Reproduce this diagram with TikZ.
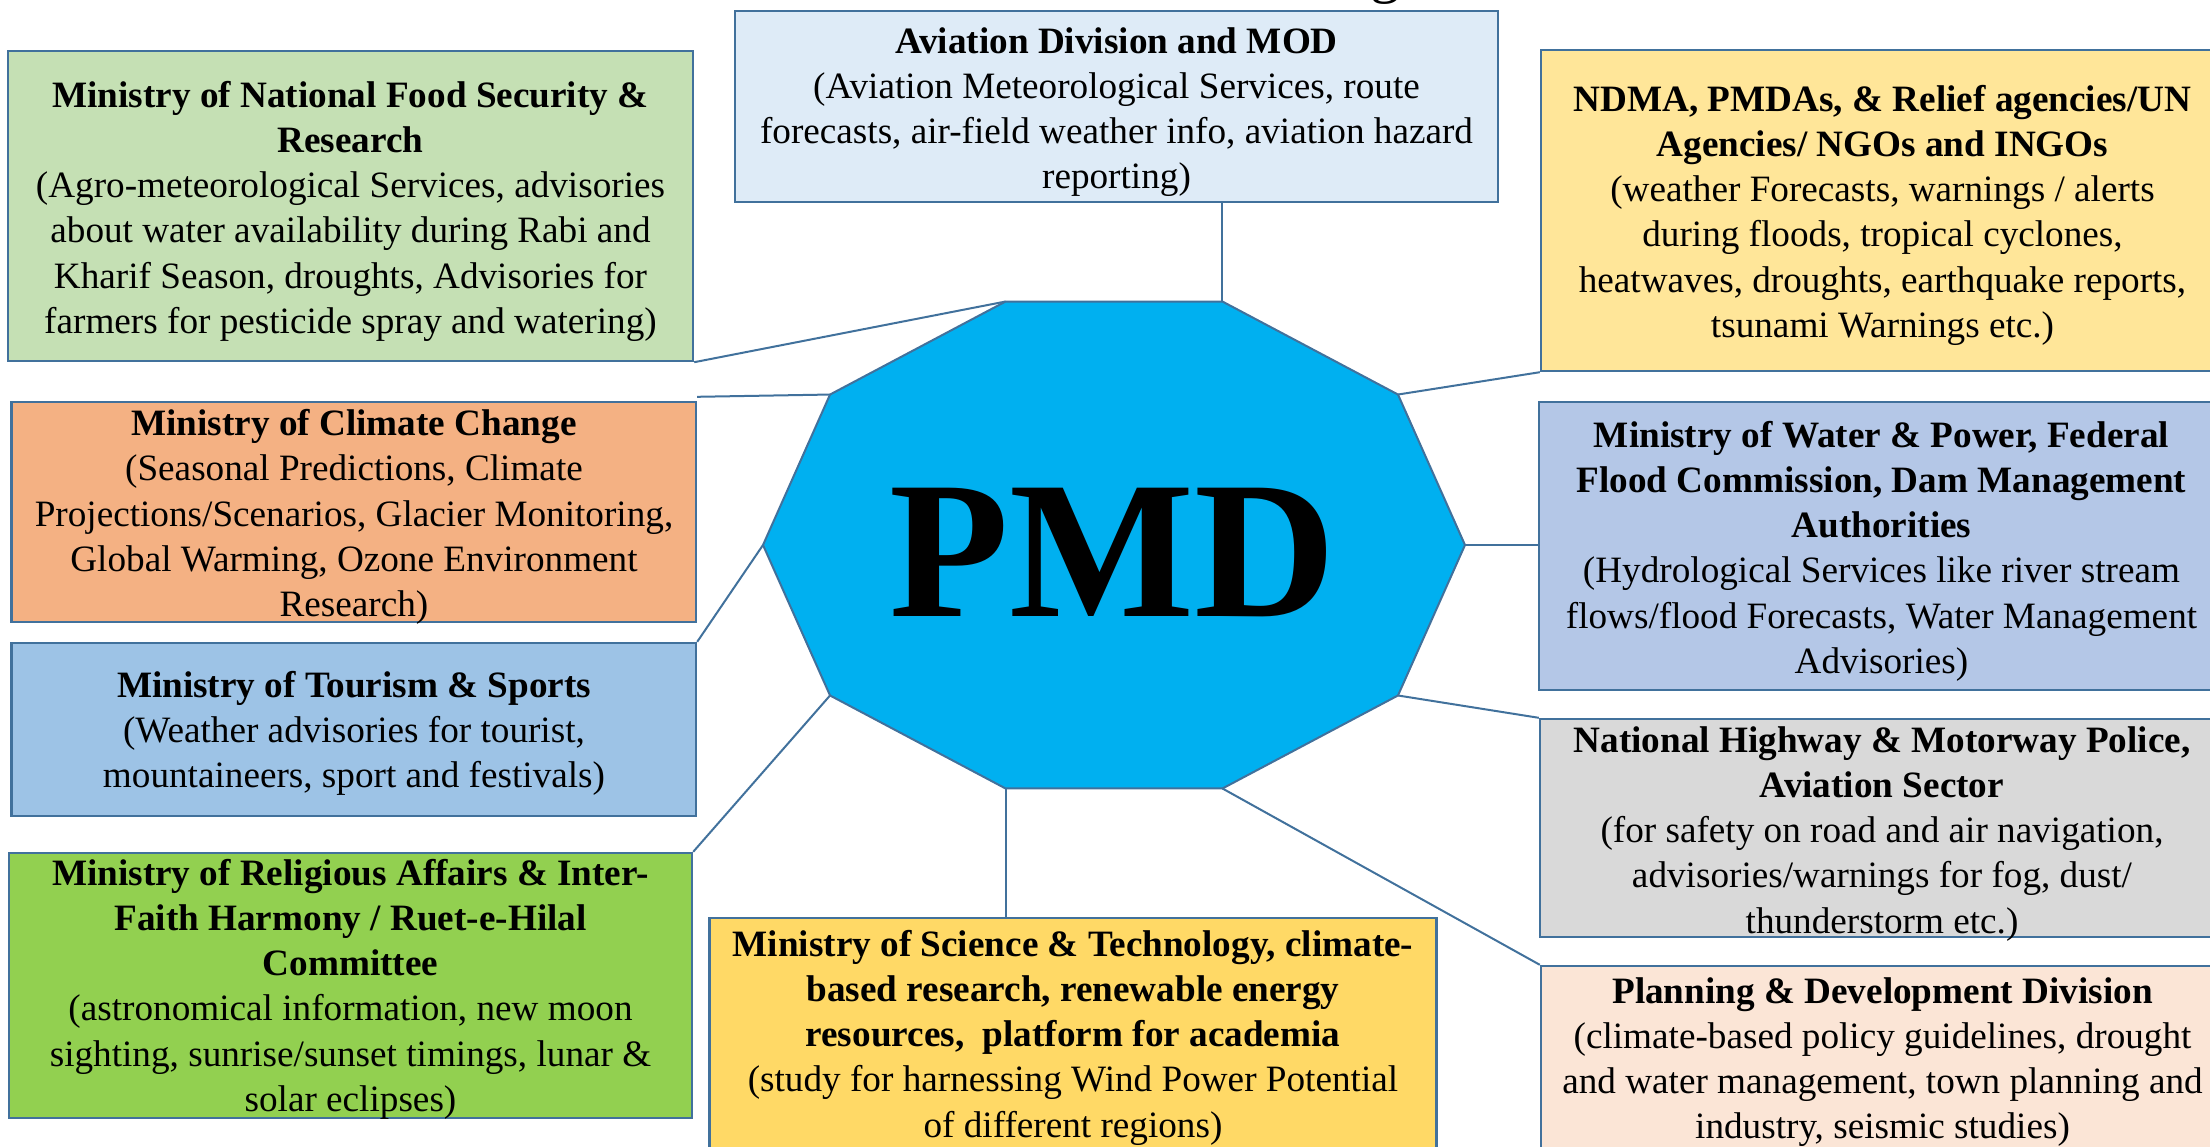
\documentclass[tikz,border=0pt]{standalone}
\usepackage{fontspec}
\setmainfont{Liberation Serif}
\usetikzlibrary{fit}
\definecolor{bord}{HTML}{41719C}
\definecolor{cAvi}{HTML}{DEEBF7}
\definecolor{cFood}{HTML}{C5E0B4}
\definecolor{cNdma}{HTML}{FFE699}
\definecolor{cClim}{HTML}{F4B183}
\definecolor{cWater}{HTML}{B4C7E7}
\definecolor{cTour}{HTML}{9DC3E6}
\definecolor{cHwy}{HTML}{D9D9D9}
\definecolor{cReli}{HTML}{92D050}
\definecolor{cSci}{HTML}{FFD966}
\definecolor{cPlan}{HTML}{FBE5D6}
\definecolor{cPmd}{HTML}{00B0F0}
\newcommand\mybt[1]{\parbox[t]{380pt}{\centering #1}}
\tikzset{
  box/.style={draw=bord, line width=1.2pt, inner sep=0pt},
  txt/.style={anchor=base, inner sep=0pt, font=\fontsize{18.6pt}{22.65pt}\selectfont},
  link/.style={draw=bord, line width=1pt},
}
\begin{document}
\begin{tikzpicture}[x=0.5pt,y=-0.5pt]
\useasboundingbox (0,0) rectangle (2210,1146);
% title fragment
\node[anchor=base, inner sep=0pt, font=\fontsize{30pt}{32pt}\selectfont] (ttl) at (1385,-9) {g};
% boxes
\node[box, fill=cAvi,   fit={(735,11) (1498,202)}] (avi) {};
\node[box, fill=cFood,  fit={(8,51) (693,361)}] (food) {};
\node[box, fill=cNdma,  fit={(1541,50) (2224,371)}] (ndma) {};
\node[box, fill=cClim,  fit={(11.5,402) (696,622)}] (clim) {};
\node[box, fill=cWater, fit={(1539,402) (2224,690)}] (water) {};
\node[box, fill=cTour,  fit={(11.5,643) (696,816)}] (tour) {};
\node[box, fill=cHwy,   fit={(1540,719) (2224,937)}] (hwy) {};
\node[box, fill=cReli,  fit={(9,853) (692,1118)}] (reli) {};
\node[box, fill=cSci,   fit={(709.5,918) (1436.5,1160)}] (sci) {};
\node[box, fill=cPlan,  fit={(1541,966) (2224,1160)}] (plan) {};
% texts
\node[txt] (aviT) at (1116.5,53) {\mybt{\textbf{Aviation Division and MOD}\\
(Aviation Meteorological Services, route\\
forecasts, air-field weather info, aviation hazard\\
reporting)}};
\node[txt] (foodT) at (350.5,107) {\mybt{\textbf{Ministry of National Food Security \&}\\
\textbf{Research}\\
(Agro-meteorological Services, advisories\\
about water availability during Rabi and\\
Kharif Season, droughts, Advisories for\\
farmers for pesticide spray and watering)}};
\node[txt] (ndmaT) at (1882.5,111) {\mybt{\textbf{NDMA, PMDAs, \& Relief agencies/UN}\\
\textbf{Agencies/ NGOs and INGOs}\\
(weather Forecasts, warnings / alerts\\
during floods, tropical cyclones,\\
heatwaves, droughts, earthquake reports,\\
tsunami Warnings etc.)}};
\node[txt] (climT) at (354,435.5) {\mybt{\textbf{Ministry of Climate Change}\\
(Seasonal Predictions, Climate\\
Projections/Scenarios, Glacier Monitoring,\\
Global Warming, Ozone Environment\\
Research)}};
\node[txt] (waterT) at (1881.5,447) {\mybt{\textbf{Ministry of Water \& Power, Federal}\\
\textbf{Flood Commission, Dam Management}\\
\textbf{Authorities}\\
(Hydrological Services like river stream\\
flows/flood Forecasts, Water Management\\
Advisories)}};
\node[txt] (tourT) at (354,697) {\mybt{\textbf{Ministry of Tourism \& Sports}\\
(Weather advisories for tourist,\\
mountaineers, sport and festivals)}};
\node[txt] (hwyT) at (1882,752) {\mybt{\textbf{National Highway \& Motorway Police,}\\
\textbf{Aviation Sector}\\
(for safety on road and air navigation,\\
advisories/warnings for fog, dust/\\
thunderstorm etc.)}};
\node[txt] (reliT) at (350.5,885) {\mybt{\textbf{Ministry of Religious Affairs \& Inter-}\\
\textbf{Faith Harmony / Ruet-e-Hilal}\\
\textbf{Committee}\\
(astronomical information, new moon\\
sighting, sunrise/sunset timings, lunar \&\\
solar eclipses)}};
\node[txt] (sciT) at (1073,956) {\mybt{\textbf{Ministry of Science \& Technology, climate-}\\
\textbf{based research, renewable energy}\\
\textbf{resources,~ platform for academia}\\
(study for harnessing Wind Power Potential\\
of different regions)}};
\node[txt] (planT) at (1882.5,1003) {\mybt{\textbf{Planning \& Development Division}\\
(climate-based policy guidelines, drought\\
and water management, town planning and\\
industry, seismic studies)}};
% decagon vertices
\foreach \k in {0,...,9}
  \coordinate (v\k) at ({1114+351*cos(36*\k)},{545-256*sin(36*\k)});
% connectors
\draw[link] (avi.south -| v2) -- (v2);
\draw[link] (food.south east) -- (v3);
\draw[link] ([yshift=2pt]clim.north east) -- (v4);
\draw[link] (tour.north east) -- (v5);
\draw[link] (reli.north east) -- (v6);
\draw[link] (sci.north -| v7) -- (v7);
\draw[link] (v8) -- (plan.north west);
\draw[link] (v9) -- (hwy.north west);
\draw[link] (v0) -- (water.west |- v0);
\draw[link] (v1) -- (ndma.south west);
% decagon
\filldraw[fill=cPmd, draw=bord, line width=1pt, line join=round]
  (v0) -- (v1) -- (v2) -- (v3) -- (v4) -- (v5) -- (v6) -- (v7) -- (v8) -- (v9) -- cycle;
\node[anchor=base, inner sep=0pt, font=\fontsize{98pt}{100pt}\selectfont\bfseries] (pmd) at (1113,616) {PMD};
\end{tikzpicture}
\end{document}
